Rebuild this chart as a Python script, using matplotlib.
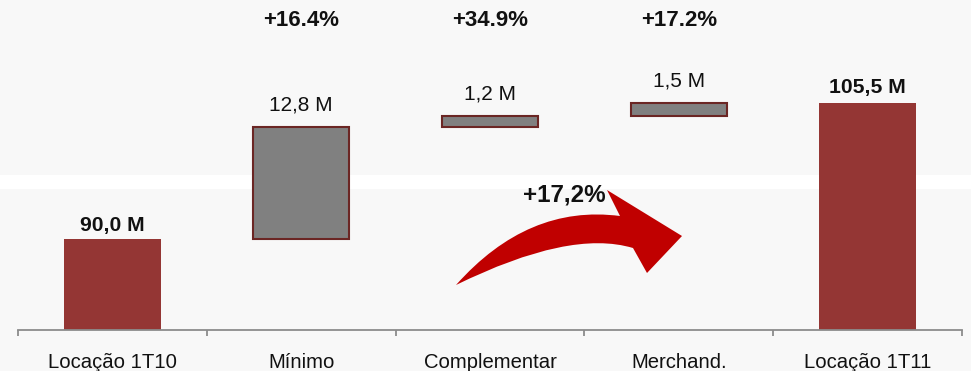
import matplotlib
matplotlib.use("Agg")
import matplotlib.pyplot as plt
from matplotlib.path import Path
from matplotlib.patches import PathPatch, Rectangle
from matplotlib.transforms import blended_transform_factory

# ---- data ----
categories = ["Locação 1T10", "Mínimo", "Complementar", "Merchand.", "Locação 1T11"]
start_total = 90.0
increments = [12.8, 1.2, 1.5]
end_total = 105.5
growth_pct = ["+16.4%", "+34.9%", "+17.2%"]
total_growth = "+17,2%"

plt.rcParams["font.family"] = ["Liberation Sans", "DejaVu Sans"]

W, H = 971, 382
BG = "#f8f8f8"
TOTAL_COLOR = "#943634"
STEP_COLOR = "#808080"
STEP_EDGE = "#6b2624"
TEXT = "#111111"

fig = plt.figure(figsize=(W / 100, H / 100), dpi=100)
fig.patch.set_facecolor(BG)

# thin white band across the panel
fig.add_artist(Rectangle((0, (H - 189) / H), 1, 14 / H, transform=fig.transFigure,
                         facecolor="white", edgecolor="none", zorder=0.5))

ax = fig.add_axes([18 / W, (H - 330) / H, (962 - 18) / W, 330 / H])
ax.set_zorder(1)
ax.set_facecolor("none")

def fmt(v):
    return f"{v:.1f}".replace(".", ",") + " M"

x = list(range(len(categories)))
width = 0.51

# totals
ax.bar(x[0], start_total, width=width, color=TOTAL_COLOR, zorder=2)
ax.bar(x[-1], end_total, width=width, color=TOTAL_COLOR, zorder=2)

# floating steps
level = start_total
for i, inc in enumerate(increments, start=1):
    ax.bar(i, inc, bottom=level, width=width, color=STEP_COLOR,
           edgecolor=STEP_EDGE, linewidth=1.5, zorder=2)
    ax.annotate(fmt(inc), (i, level + inc), xytext=(0, 9), textcoords="offset points",
                ha="center", va="bottom", fontsize=15, color=TEXT)
    level += inc

ax.annotate(fmt(start_total), (x[0], start_total), xytext=(0, 3), textcoords="offset points",
            ha="center", va="bottom", fontsize=15.2, fontweight="bold", color=TEXT)
ax.annotate(fmt(end_total), (x[-1], end_total), xytext=(0, 4), textcoords="offset points",
            ha="center", va="bottom", fontsize=15.2, fontweight="bold", color=TEXT)

# growth percentages along the top
top_tr = blended_transform_factory(ax.transData, ax.transAxes)
for i, pct in enumerate(growth_pct, start=1):
    ax.text(i, 1 - 21 / 330, pct, transform=top_tr, ha="center", va="center",
            fontsize=16, fontweight="bold", color=TEXT)

ax.set_xlim(-0.5, len(categories) - 0.5)
ax.set_ylim(79.7, 79.7 + 330 / 8.8)

for side in ("left", "right", "top"):
    ax.spines[side].set_visible(False)
ax.spines["bottom"].set_color("#8c8c8c")
ax.spines["bottom"].set_linewidth(1.3)
ax.set_yticks([])
ax.set_xticks(x)
ax.set_xticklabels(categories, fontsize=14.6, color=TEXT)
ax.tick_params(axis="x", which="major", length=0, pad=16.5)
ax.set_xticks([i - 0.5 for i in range(len(categories) + 1)], minor=True)
ax.tick_params(axis="x", which="minor", length=4, width=1.3, color="#8c8c8c", direction="out")

# curved growth arrow (pixel outline, y measured from the top)
def P(px, py):
    return (px / W, 1 - py / H)

verts = [P(456, 285), P(528, 204), P(620, 216),
         P(607, 190), P(682, 236), P(647, 273), P(633, 248),
         P(570, 229), P(456, 285), P(456, 285)]
codes = [Path.MOVETO, Path.CURVE3, Path.CURVE3,
         Path.LINETO, Path.LINETO, Path.LINETO, Path.LINETO,
         Path.CURVE3, Path.CURVE3, Path.CLOSEPOLY]
fig.add_artist(PathPatch(Path(verts, codes), transform=fig.transFigure,
                         facecolor="#c00000", edgecolor="none", zorder=3))
fig.text(564 / W, 1 - 195 / H, total_growth, ha="center", va="center",
         fontsize=17.4, fontweight="bold", color=TEXT, zorder=4)

# plain strip along the lower edge
fig.add_artist(Rectangle((0, 0), 1, 11 / H, transform=fig.transFigure,
                         facecolor="white", edgecolor="none", zorder=10))

fig.savefig("out.png", dpi=100, facecolor=fig.get_facecolor())
